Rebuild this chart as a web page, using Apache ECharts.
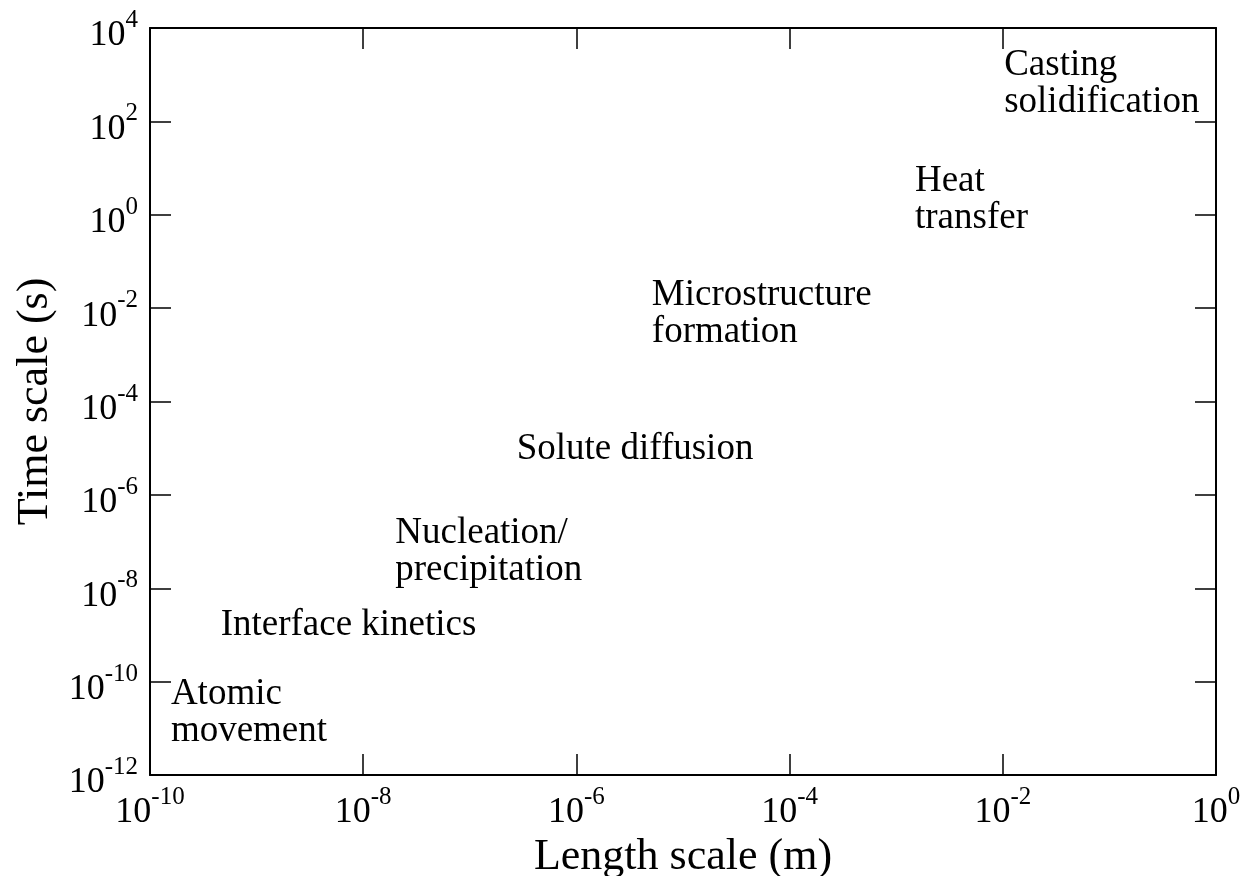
<!DOCTYPE html>
<html>
<head>
<meta charset="utf-8">
<script src="https://cdn.jsdelivr.net/npm/echarts@6/dist/echarts.min.js"></script>
<style>
html,body{margin:0;padding:0;background:#fff;}
#chart{width:1245px;height:876px;}
</style>
</head>
<body>
<div id="chart"></div>
<script>
// Axis ranges (real values, log scale, base 10)
var xRange = [1e-10, 1];
var yRange = [1e-12, 1e4];
var tickStepDecades = 2;

// Annotated processes (length scale m, time scale s) — label anchor positions
var processNames = [
  'Atomic\nmovement',
  'Interface kinetics',
  'Nucleation/\nprecipitation',
  'Solute diffusion',
  'Microstructure\nformation',
  'Heat\ntransfer',
  'Casting\nsolidification'
];
var lengthScales = [1.57e-10, 4.6e-10, 2.0e-8, 2.75e-7, 5.1e-6, 1.5e-3, 1.03e-2];
var timeScales   = [2.35e-11, 1.72e-9, 6.45e-8, 1.0e-5, 8.1e-3, 2.2, 681];

var xTitle = 'Length scale (m)';
var yTitle = 'Time scale (s)';

var FONT = '"Liberation Serif", "Times New Roman", Times, serif';

function pow10Label(v) {
  var n = Math.round(v);
  return '{b|10}{s|' + n + '}';
}
var richLbl = {
  b: { fontFamily: FONT, fontSize: 36, lineHeight: 56, color: '#000' },
  s: { fontFamily: FONT, fontSize: 25, lineHeight: 18, verticalAlign: 'top', color: '#000' }
};

var lx = [Math.log10(xRange[0]), Math.log10(xRange[1])];
var ly = [Math.log10(yRange[0]), Math.log10(yRange[1])];

var axisLineStyle = { color: '#000', width: 2 };
var tickStyle = { color: '#000', width: 1.5 };

function xAxisDef(pos, showLabel, name) {
  return {
    type: 'value', position: pos, min: lx[0], max: lx[1], interval: tickStepDecades,
    axisLine: { show: true, onZero: false, lineStyle: axisLineStyle },
    axisTick: { show: true, inside: true, length: 21, lineStyle: tickStyle },
    splitLine: { show: false },
    axisLabel: showLabel ? {
      show: true, margin: 10, formatter: pow10Label, rich: richLbl,
      showMinLabel: true, showMaxLabel: true, hideOverlap: false
    } : { show: false },
    name: name || '', nameLocation: 'middle', nameGap: 57,
    nameTextStyle: { fontFamily: FONT, fontSize: 44, color: '#000' }
  };
}
function yAxisDef(pos, showLabel, name) {
  return {
    type: 'value', position: pos, min: ly[0], max: ly[1], interval: tickStepDecades,
    axisLine: { show: true, onZero: false, lineStyle: axisLineStyle },
    axisTick: { show: true, inside: true, length: 21, lineStyle: tickStyle },
    splitLine: { show: false },
    axisLabel: showLabel ? {
      show: true, margin: 12, formatter: pow10Label, rich: richLbl,
      padding: [16, 0, 0, 0],
      showMinLabel: true, showMaxLabel: true, hideOverlap: false
    } : { show: false },
    name: name || '', nameLocation: 'middle', nameGap: 91, nameRotate: 90,
    nameTextStyle: { fontFamily: FONT, fontSize: 44, color: '#000' }
  };
}

var pts = processNames.map(function (nm, i) {
  return { name: nm, value: [Math.log10(lengthScales[i]), Math.log10(timeScales[i])] };
});

var chart = echarts.init(document.getElementById('chart'), null, { renderer: 'canvas' });
chart.setOption({
  animation: false,
  backgroundColor: '#fff',
  grid: { left: 150, right: 29, top: 28, bottom: 101, containLabel: false, outerBoundsMode: 'none' },
  xAxis: [xAxisDef('bottom', true, xTitle), xAxisDef('top', false)],
  yAxis: [yAxisDef('left', true, yTitle), yAxisDef('right', false)],
  series: [{
    type: 'scatter',
    symbolSize: 0,
    silent: true,
    itemStyle: { opacity: 1 },
    data: pts,
    label: {
      show: true, position: 'right', distance: 0, offset: [0, 1.5],
      formatter: function (p) { return p.name; },
      fontFamily: FONT, fontSize: 37, lineHeight: 37, color: '#000', opacity: 1, align: 'left'
    },
    emphasis: { disabled: true }
  }]
});
</script>
</body>
</html>
